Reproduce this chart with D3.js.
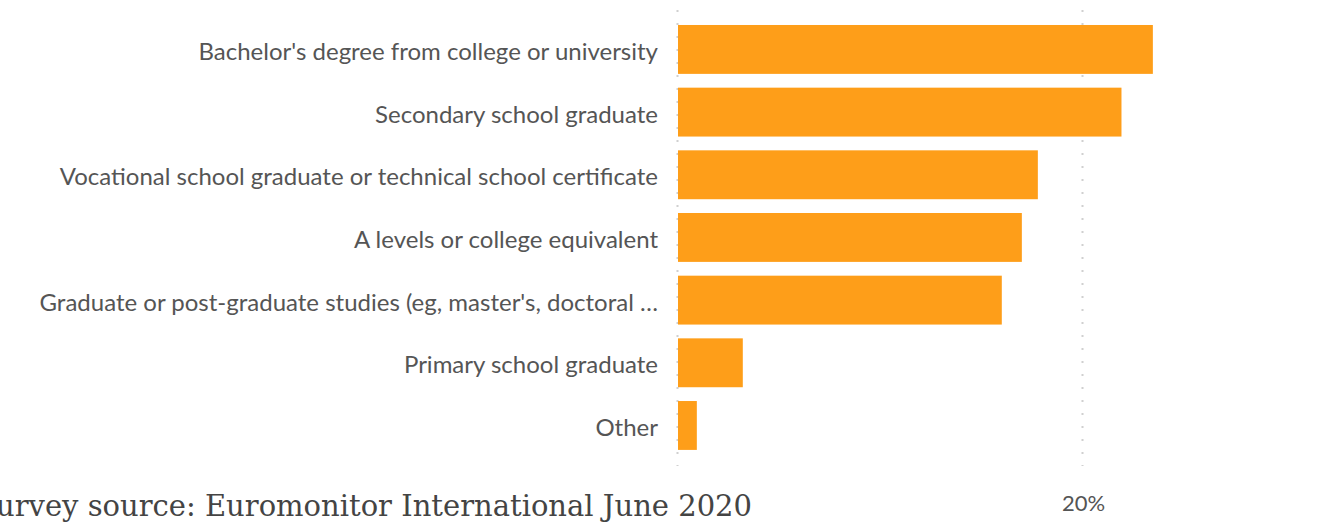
<!DOCTYPE html>
<html>
<head>
<meta charset="utf-8">
<script src="https://cdn.jsdelivr.net/npm/d3@7"></script>
<style>
  html, body { margin: 0; padding: 0; background: #fff; overflow: hidden; }
  svg { display: block; }
</style>
</head>
<body>
<svg id="chart" width="1321" height="523"></svg>
<script>
const categories = [
  "Bachelor's degree from college or university",
  "Secondary school graduate",
  "Vocational school graduate or technical school certificate",
  "A levels or college equivalent",
  "Graduate or post-graduate studies (eg, master's, doctoral \u2026",
  "Primary school graduate",
  "Other"
];
const values = [23.45, 21.9, 17.77, 16.98, 15.99, 3.2, 0.93];
const gridValues = [0, 20];
const tickValues = [20];
const sourceText = "Survey source: Euromonitor International June 2020";

const svg = d3.select("#chart");
const x = d3.scaleLinear().domain([0, 20]).range([678, 1083]);
const y = d3.scaleBand().domain(categories).range([18.1, 456.8])
  .paddingInner(0.22).paddingOuter(0.11);

// gridlines
svg.append("g").selectAll("line").data(gridValues).join("line")
  .attr("x1", d => x(d) - 0.5).attr("x2", d => x(d) - 0.5)
  .attr("y1", 10).attr("y2", 466)
  .attr("stroke", "#d0d0d0").attr("stroke-width", 2)
  .attr("stroke-dasharray", "2,11");

// bars
svg.append("g").selectAll("rect").data(values).join("rect")
  .attr("x", x(0))
  .attr("y", (d, i) => y(categories[i]))
  .attr("width", d => x(d) - x(0))
  .attr("height", y.bandwidth())
  .attr("fill", "#FE9E19");

// category labels
const yAxis = d3.axisLeft(y).tickSize(0).tickPadding(20);
const ga = svg.append("g").attr("transform", `translate(${x(0)},0)`).call(yAxis);
ga.select(".domain").remove();
ga.selectAll("text")
  .attr("font-family", "Lato, 'Open Sans', sans-serif")
  .attr("font-size", 24)
  .attr("dy", 10.5)
  .attr("fill", "#555");

// x axis
const xAxis = d3.axisBottom(x).tickValues(tickValues).tickFormat(d => d + "%").tickSize(0).tickPadding(0);
const gx = svg.append("g").attr("transform", "translate(0,495)").call(xAxis);
gx.select(".domain").remove();
gx.selectAll("text")
  .attr("font-family", "Lato, 'Open Sans', sans-serif")
  .attr("font-size", 22)
  .attr("fill", "#555");

// source text (partially clipped at the left edge, as in the reference)
svg.append("text")
  .attr("x", 752).attr("y", 516)
  .attr("text-anchor", "end")
  .attr("font-family", "'DejaVu Serif', serif")
  .attr("font-size", 29)
  .attr("fill", "#444")
  .text(sourceText);
</script>
</body>
</html>
